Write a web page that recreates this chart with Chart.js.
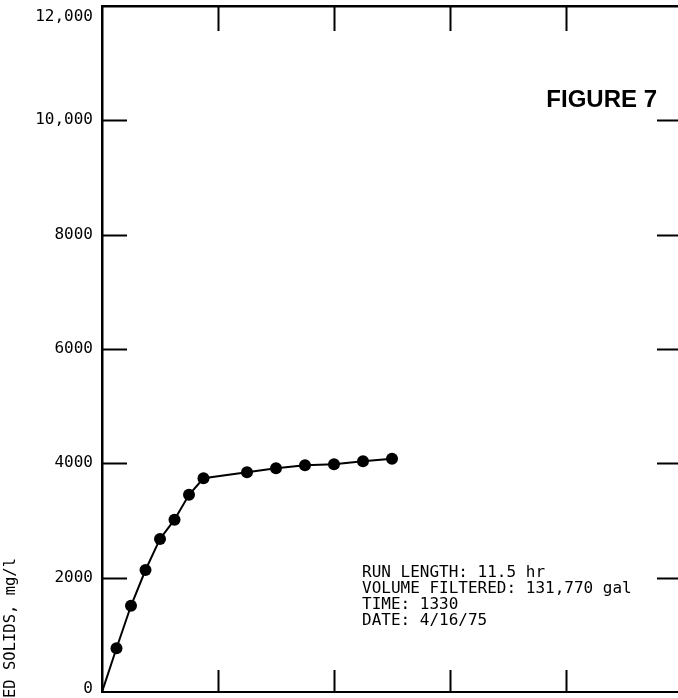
<!DOCTYPE html>
<html>
<head>
<meta charset="utf-8">
<script src="https://cdn.jsdelivr.net/npm/chart.js@4/dist/chart.umd.min.js"></script>
<style>
  html, body { margin: 0; padding: 0; background: #fff; overflow: hidden; }
  #wrap { width: 700px; height: 698px; }
</style>
</head>
<body>
<div id="wrap"><canvas id="c" width="700" height="698"></canvas></div>
<script>
// Elapsed run time, hr
const hours = [0, 0.5, 1, 1.5, 2, 2.5, 3, 3.5, 5, 6, 7, 8, 9, 10];
// Suspended solids concentration, mg/l
const solids = [0, 765, 1508, 2134, 2678, 3014, 3449, 3739, 3843, 3913, 3965, 3983, 4035, 4082];
// Axis tick values and their printed labels
const yTicks = [0, 2000, 4000, 6000, 8000, 10000, 12000];
const yTickLabels = ['0', '2000', '4000', '6000', '8000', '10,000', '12,000'];
const xTicks = [4, 8, 12, 16];
// Run information block
const runInfo = [
  'RUN LENGTH: 11.5 hr',
  'VOLUME FILTERED: 131,770 gal',
  'TIME: 1330',
  'DATE: 4/16/75'
];
const figureTitle = 'FIGURE 7';
const yTitle = 'SUSPENDED SOLIDS, mg/l';

const MONO = '"DejaVu Sans Mono", "Liberation Mono", monospace';

// Inward tick marks, tick labels, axis title and text notes
const decorations = {
  id: 'decorations',
  afterDraw(chart) {
    const { ctx, chartArea: a } = chart;
    const xs = chart.scales.x, ys = chart.scales.y;
    ctx.save();
    ctx.strokeStyle = '#000';
    ctx.fillStyle = '#000';
    ctx.lineWidth = 2;
    const L = 25;
    // left and right ticks
    yTicks.forEach(v => {
      if (v === 0 || v === 12000) return;
      const py = Math.round(ys.getPixelForValue(v)) + 0.5;
      ctx.beginPath();
      ctx.moveTo(a.left, py); ctx.lineTo(a.left + L, py);
      ctx.moveTo(a.right - L, py); ctx.lineTo(a.right, py);
      ctx.stroke();
    });
    // top and bottom ticks
    xTicks.forEach(v => {
      const px = Math.round(xs.getPixelForValue(v)) + 0.5;
      ctx.beginPath();
      ctx.moveTo(px, a.top); ctx.lineTo(px, a.top + L);
      ctx.moveTo(px, a.bottom); ctx.lineTo(px, a.bottom - 22);
      ctx.stroke();
    });
    // y tick labels
    ctx.font = '16px ' + MONO;
    ctx.textAlign = 'right';
    ctx.textBaseline = 'middle';
    yTicks.forEach((v, i) => {
      let py = ys.getPixelForValue(v);
      py = Math.min(Math.max(py, 17), 689);
      ctx.fillText(yTickLabels[i], 93, py);
    });
    // y axis title, rotated
    ctx.save();
    ctx.translate(11, 558);
    ctx.rotate(-Math.PI / 2);
    ctx.textAlign = 'right';
    ctx.textBaseline = 'middle';
    ctx.font = '15.5px ' + MONO;
    ctx.fillText(yTitle, 0, 0);
    ctx.restore();
    // figure label
    ctx.font = 'bold 24px "Liberation Sans", Arial, sans-serif';
    ctx.textAlign = 'right';
    ctx.textBaseline = 'alphabetic';
    ctx.fillText(figureTitle, 657, 107);
    // run information
    ctx.font = '16px ' + MONO;
    ctx.textAlign = 'left';
    runInfo.forEach((t, i) => ctx.fillText(t, 362, 577 + i * 16));
    ctx.restore();
  }
};

new Chart(document.getElementById('c'), {
  type: 'scatter',
  data: {
    datasets: [{
      data: hours.map((h, i) => ({ x: h, y: solids[i] })),
      showLine: true,
      borderColor: '#000',
      borderWidth: 2,
      backgroundColor: '#000',
      pointBackgroundColor: '#000',
      pointBorderColor: '#000',
      pointRadius: ctx => (ctx.dataIndex === 0 ? 0 : 6),
      pointBorderWidth: 0,
      tension: 0
    }]
  },
  options: {
    responsive: false,
    devicePixelRatio: 1,
    animation: false,
    events: [],
    layout: { padding: { left: 102, top: 6, right: 18, bottom: 3 } },
    plugins: { legend: { display: false }, tooltip: { enabled: false } },
    scales: {
      x: {
        type: 'linear', min: 0, max: 20,
        ticks: { display: false },
        grid: { display: false, drawTicks: false },
        border: { display: true, color: '#000', width: 2 }
      },
      x2: {
        type: 'linear', position: 'top', min: 0, max: 20,
        ticks: { display: false },
        grid: { display: false, drawTicks: false },
        border: { display: true, color: '#000', width: 2.5 }
      },
      y: {
        type: 'linear', min: 0, max: 12000,
        ticks: { display: false },
        grid: { display: false, drawTicks: false },
        border: { display: true, color: '#000', width: 2.5 }
      },
      y2: {
        type: 'linear', position: 'right', min: 0, max: 12000,
        ticks: { display: false },
        grid: { display: false, drawTicks: false },
        border: { display: true, color: '#000', width: 2 }
      }
    }
  },
  plugins: [decorations]
});
</script>
</body>
</html>
